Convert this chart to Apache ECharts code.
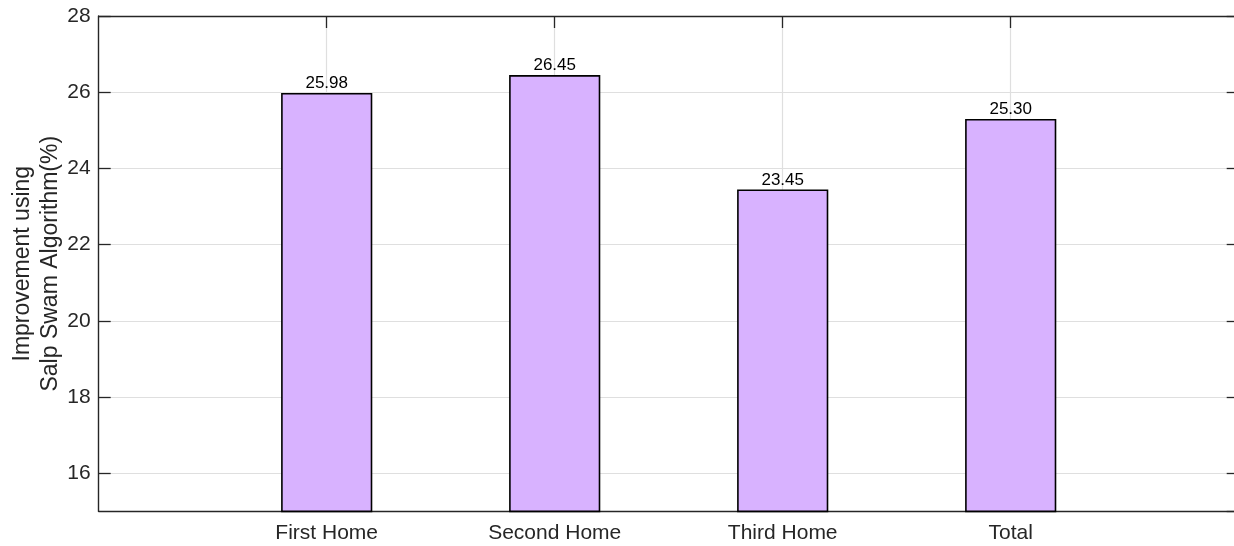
<!DOCTYPE html>
<html>
<head>
<meta charset="utf-8">
<script src="https://cdn.jsdelivr.net/npm/echarts@6/dist/echarts.min.js"></script>
<style>
html,body{margin:0;padding:0;background:#fff;}
#chart{width:1234px;height:546px;}
</style>
</head>
<body>
<div id="chart"></div>
<script>
// categories (padded with empty slots so bars sit at x = 1..4 on a 0..5 axis)
var categories = ['', 'First Home', 'Second Home', 'Third Home', 'Total', ''];
var improvement = ['-', 25.98, 26.45, 23.45, 25.30, '-'];
var yTickLabels = [16, 18, 20, 22, 24, 26, 28];

var axisColor = '#262626';
var gridColor = '#dfdfdf';
var fontFam = 'Liberation Sans, Arial, Helvetica, sans-serif';

function midTick(i) { return i > 0 && i < categories.length - 1; }

var chart = echarts.init(document.getElementById('chart'));
chart.setOption({
  animation: false,
  backgroundColor: '#fff',
  textStyle: { fontFamily: fontFam },
  grid: { left: 98.7, top: 16, width: 1140, height: 495.4, containLabel: false, outerBoundsMode: 'none' },
  xAxis: [{
    type: 'category',
    data: categories,
    boundaryGap: false,
    position: 'bottom',
    axisLine: { lineStyle: { color: axisColor, width: 1.4 } },
    axisTick: { inside: true, length: 12, interval: midTick, lineStyle: { color: axisColor, width: 1.3 } },
    axisLabel: { fontSize: 21, color: axisColor, margin: 11, fontFamily: fontFam, interval: 0 },
    splitLine: { show: true, interval: midTick, lineStyle: { color: gridColor, width: 1.2 } }
  }, {
    type: 'category',
    data: categories,
    boundaryGap: false,
    position: 'top',
    axisLine: { lineStyle: { color: axisColor, width: 1.4 } },
    axisTick: { inside: true, length: 12, interval: midTick, lineStyle: { color: axisColor, width: 1.3 } },
    axisLabel: { show: false },
    splitLine: { show: false }
  }],
  yAxis: [{
    type: 'value',
    min: 15,
    max: 28,
    splitNumber: 6,
    position: 'left',
    name: 'Improvement using\nSalp Swam Algorithm(%)',
    nameLocation: 'middle',
    nameRotate: 90,
    nameGap: 34,
    nameMoveOverlap: false,
    nameTextStyle: { fontSize: 23, lineHeight: 28, color: axisColor, fontFamily: fontFam },
    axisLine: { show: true, lineStyle: { color: axisColor, width: 1.4 } },
    axisTick: { show: true, inside: true, length: 12, lineStyle: { color: axisColor, width: 1.3 } },
    axisLabel: {
      fontSize: 21, color: axisColor, margin: 8, fontFamily: fontFam, showMinLabel: false,
      formatter: function (v) { return yTickLabels.indexOf(v) >= 0 ? String(v) : ''; }
    },
    splitLine: { show: true, lineStyle: { color: gridColor, width: 1.2 } }
  }, {
    type: 'value',
    min: 15,
    max: 28,
    splitNumber: 6,
    position: 'right',
    axisLine: { show: true, lineStyle: { color: axisColor, width: 1.4 } },
    axisTick: { show: true, inside: true, length: 12, lineStyle: { color: axisColor, width: 1.3 } },
    axisLabel: { show: false },
    splitLine: { show: false }
  }],
  series: [{
    type: 'bar',
    xAxisIndex: 0,
    yAxisIndex: 0,
    data: improvement,
    barWidth: '40%',
    clip: true,
    itemStyle: { color: '#d8b2ff', borderColor: '#000', borderWidth: 1.6 },
    label: {
      show: true,
      position: 'top',
      distance: 1,
      fontSize: 17,
      color: '#000',
      fontFamily: fontFam,
      formatter: function (p) { return Number(p.value).toFixed(2); }
    }
  }]
});
</script>
</body>
</html>
